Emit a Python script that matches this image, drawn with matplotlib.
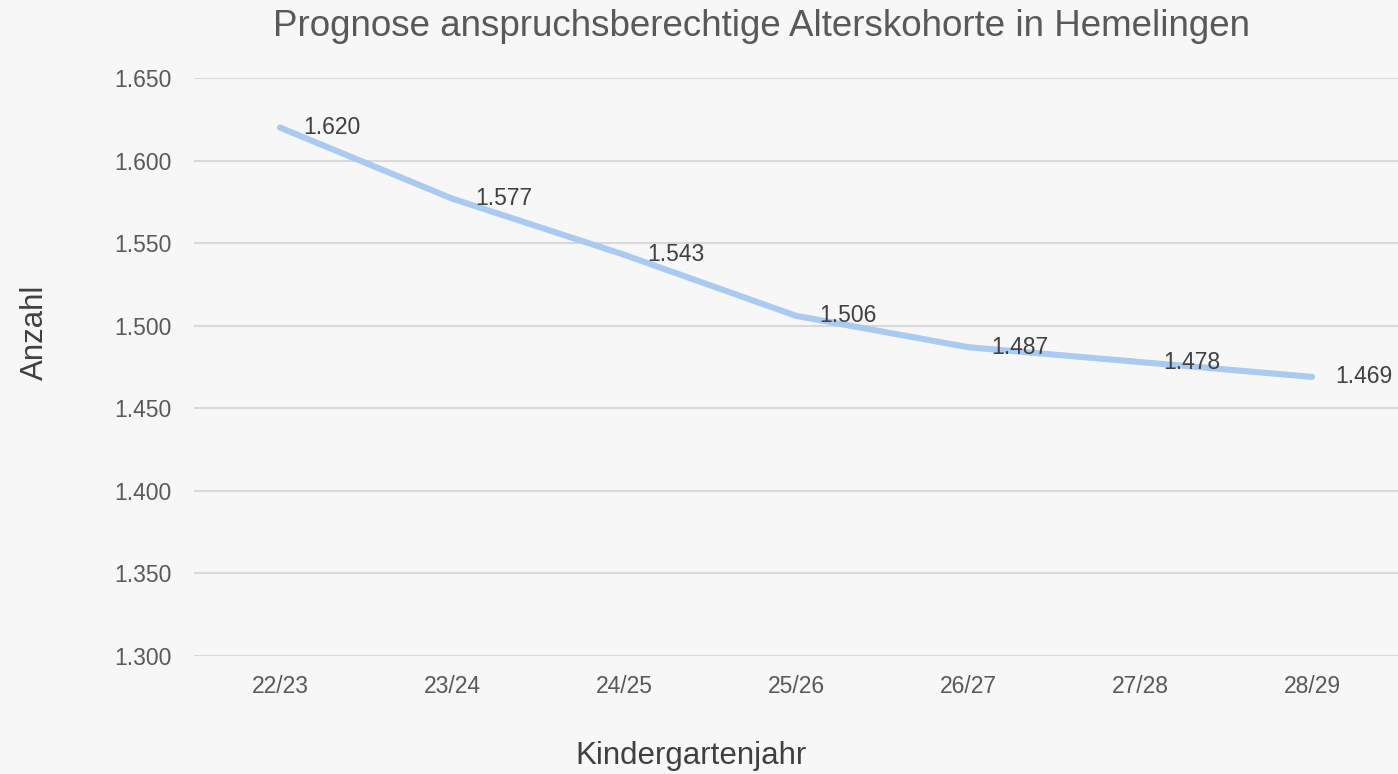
import numpy as np
import matplotlib
matplotlib.use("Agg")
import matplotlib.pyplot as plt
from matplotlib.ticker import FuncFormatter

# ── data ───────────────────────────────────────────────────────────────────
years = ["22/23", "23/24", "24/25", "25/26", "26/27", "27/28", "28/29"]
anzahl = [1620, 1577, 1543, 1506, 1487, 1478, 1469]
y_ticks = [1300, 1350, 1400, 1450, 1500, 1550, 1600, 1650]

plt.rcParams["font.family"] = ["Liberation Sans", "DejaVu Sans"]

BG = "#f7f7f7"
TXT = "#595959"

fig = plt.figure(figsize=(13.98, 7.74), dpi=100, facecolor=BG)
ax = fig.add_axes([194 / 1398, 1 - 656 / 774, 1 - 194 / 1398, (656 - 78) / 774])
ax.set_facecolor(BG)

x = np.arange(len(years))
ax.plot(x, anzahl, color="#a9caf1", lw=4.4, solid_capstyle="round",
        solid_joinstyle="round", zorder=3)

# data labels right of each point
for xi, v in zip(x, anzahl):
    ax.annotate(f"{v / 1000:.3f}", (xi, v), xytext=(17, 0),
                textcoords="offset points", ha="left", va="center",
                fontsize=16.5, color="#404040", zorder=4)

ax.set_xlim(-0.5, len(years) - 0.5)
ax.set_ylim(y_ticks[0], y_ticks[-1])
ax.set_xticks(x)
ax.set_xticklabels(years)
ax.set_yticks(y_ticks)
ax.yaxis.set_major_formatter(FuncFormatter(lambda v, _: f"{v / 1000:.3f}"))

for s in ax.spines.values():
    s.set_visible(False)
ax.tick_params(axis="both", length=0, labelsize=16.5, labelcolor=TXT)
ax.tick_params(axis="y", pad=16)
ax.tick_params(axis="x", pad=14)
ax.grid(axis="y", color="#d9d9d9", lw=1.5, zorder=1)
ax.set_axisbelow(True)

fig.text(761 / 1398, 1 - 26 / 774, "Prognose anspruchsberechtige Alterskohorte in Hemelingen",
         ha="center", va="center", fontsize=26.5, color=TXT)
fig.text(691 / 1398, 1 - 756 / 774, "Kindergartenjahr",
         ha="center", va="center", fontsize=22.5, color="#404040")
fig.text(35 / 1398, 1 - 332 / 774, "Anzahl", rotation=90,
         ha="center", va="center", fontsize=22.5, color="#404040")

fig.savefig("out.png", dpi=100, facecolor=BG)
